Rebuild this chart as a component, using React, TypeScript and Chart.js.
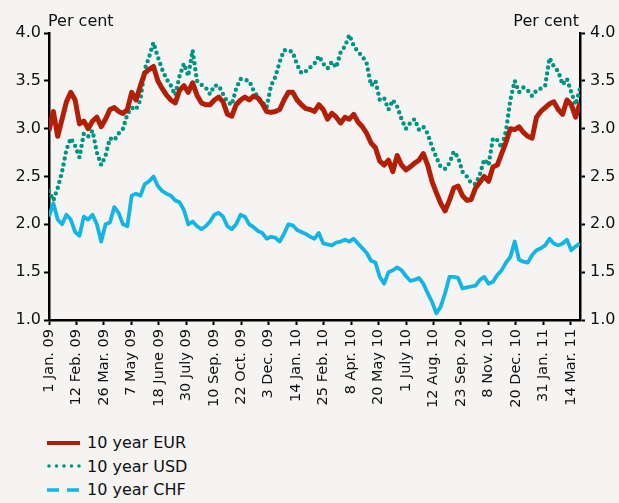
import React, { useEffect, useRef } from "react";
import { Chart, registerables } from "chart.js";

Chart.register(...registerables);

// x positions are sample indices (one reading per ~5 business days, from 1 Jan 2009)
const tickLabels = [
  "1 Jan. 09", "12 Feb. 09", "26 Mar. 09", "7 May 09", "18 June 09", "30 July 09",
  "10 Sep. 09", "22 Oct. 09", "3 Dec. 09", "14 Jan. 10", "25 Feb. 10", "8 Apr. 10",
  "20 May 10", "1 July 10", "12 Aug. 10", "23 Sep. 20", "8 Nov. 10", "20 Dec. 10",
  "31 Jan. 11", "14 Mar. 11",
];
const samplesPerTick = 6.31;
const lastSample = 122;

const eur = [
  2.98, 3.18, 2.92, 3.1, 3.28, 3.38, 3.3, 3.05, 3.08, 3.0,
  3.08, 3.12, 3.02, 3.1, 3.2, 3.22, 3.18, 3.16, 3.2, 3.38,
  3.3, 3.45, 3.58, 3.62, 3.65, 3.5, 3.42, 3.35, 3.3, 3.27,
  3.4, 3.45,
  3.38, 3.48, 3.35, 3.27, 3.25, 3.25, 3.3, 3.33, 3.28, 3.15,
  3.13, 3.25, 3.3, 3.33, 3.3, 3.34, 3.32, 3.26, 3.18, 3.17,
  3.18, 3.2, 3.3, 3.38, 3.38, 3.3, 3.25, 3.21, 3.2, 3.18,
  3.25,
  3.2, 3.1, 3.16, 3.12, 3.06, 3.12, 3.1, 3.15, 3.07, 3.02,
  2.95, 2.85, 2.8, 2.66, 2.62, 2.67, 2.55, 2.72, 2.62, 2.57,
  2.6, 2.64, 2.67, 2.74, 2.62, 2.45, 2.33, 2.22, 2.14, 2.25,
  2.38,
  2.4, 2.3, 2.25, 2.26, 2.38, 2.44, 2.5, 2.45, 2.6, 2.62,
  2.74, 2.86, 3.0, 2.99, 3.02, 2.96, 2.92, 2.9, 3.12, 3.18,
  3.22, 3.26, 3.28, 3.2, 3.15, 3.3, 3.25, 3.12, 3.27,
];

const usd = [
  2.35, 2.25, 2.38, 2.55, 2.78, 2.9, 2.82, 2.7, 2.95, 2.92,
  2.98, 2.75, 2.62, 2.72, 2.9, 2.88, 2.95, 3.0, 3.15, 3.22,
  3.2, 3.3, 3.62, 3.75, 3.9, 3.75, 3.62, 3.52, 3.45, 3.35,
  3.55, 3.68,
  3.55, 3.82, 3.5, 3.46, 3.43, 3.36, 3.45, 3.45, 3.36, 3.28,
  3.25, 3.42, 3.52, 3.51, 3.5, 3.4, 3.33, 3.28, 3.22, 3.45,
  3.54, 3.7, 3.82, 3.82, 3.8, 3.67, 3.58, 3.6, 3.64, 3.68,
  3.76,
  3.68, 3.63, 3.7, 3.64, 3.8, 3.86, 3.98, 3.87, 3.8, 3.76,
  3.68, 3.45, 3.5, 3.3, 3.32, 3.2, 3.3, 3.23, 3.1, 3.0,
  3.06, 3.1, 2.99, 3.02, 2.95, 2.81, 2.7, 2.6, 2.58, 2.64,
  2.76,
  2.7, 2.55, 2.5, 2.43, 2.42, 2.52, 2.68, 2.62, 2.9, 2.88,
  2.8, 2.98, 3.3, 3.5, 3.38, 3.43, 3.4, 3.34, 3.4, 3.42,
  3.45, 3.74, 3.65, 3.6, 3.46, 3.52, 3.38, 3.25, 3.42,
];

const chf = [
  2.08, 2.22, 2.05, 2.0, 2.1, 2.05, 1.92, 1.88, 2.08, 2.05,
  2.1, 2.0, 1.82, 2.0, 2.02, 2.18, 2.12, 2.0, 1.98, 2.3,
  2.32, 2.3, 2.42, 2.45, 2.5, 2.4, 2.35, 2.32, 2.3, 2.25,
  2.23, 2.15,
  2.0, 2.03, 1.98, 1.95, 1.98, 2.03, 2.1, 2.12, 2.08, 1.98,
  1.95, 2.0, 2.1, 2.08, 2.0, 1.97, 1.93, 1.91, 1.85, 1.87,
  1.86, 1.82, 1.9, 2.0, 1.99, 1.94, 1.92, 1.9, 1.87, 1.85,
  1.91,
  1.8, 1.79, 1.78, 1.81, 1.82, 1.84, 1.82, 1.85, 1.8, 1.75,
  1.7, 1.62, 1.6, 1.45, 1.38, 1.5, 1.52, 1.55, 1.52, 1.46,
  1.41, 1.42, 1.44, 1.38, 1.28, 1.19, 1.07, 1.14, 1.28, 1.45,
  1.45,
  1.44, 1.33, 1.34, 1.35, 1.36, 1.42, 1.45, 1.38, 1.4, 1.47,
  1.52, 1.6, 1.66, 1.82, 1.63, 1.61, 1.6, 1.68, 1.73, 1.75,
  1.78, 1.85, 1.8, 1.78, 1.8, 1.84, 1.73, 1.77, 1.8,
];

const seriesNames = ["10 year EUR", "10 year USD", "10 year CHF"];
const colors = ["#b21f06", "#009482", "#12b5e5"];
const yTicks = [1.0, 1.5, 2.0, 2.5, 3.0, 3.5, 4.0];

const BG = "#f5f4f2";
const FONT = "'DejaVu Sans', Verdana, sans-serif";

const toPoints = (arr: number[]) => arr.map((v, i) => ({ x: i, y: v }));

export default function App() {
  const ref = useRef<HTMLCanvasElement | null>(null);

  useEffect(() => {
    document.body.style.margin = "0";
    document.body.style.background = BG;
    const canvas = ref.current;
    if (!canvas) return;

    const perCent = {
      id: "perCent",
      afterDraw(chart: any) {
        const ctx = chart.ctx;
        ctx.save();
        ctx.fillStyle = "#111";
        ctx.font = `16px ${FONT}`;
        ctx.textBaseline = "alphabetic";
        ctx.textAlign = "left";
        ctx.fillText("Per cent", 48, 26);
        ctx.textAlign = "right";
        ctx.fillText("Per cent", 579, 26);
        ctx.restore();
      },
    };

    const yAxis = (position: string, width: number) => ({
      type: "linear",
      position,
      min: 1,
      max: 4,
      afterBuildTicks: (s: any) => {
        s.ticks = yTicks.map((v) => ({ value: v }));
      },
      afterFit: (s: any) => {
        s.width = width;
      },
      ticks: {
        color: "#111",
        font: { family: FONT, size: 16 },
        padding: position === "left" ? 3 : 5,
        callback: (v: any) => Number(v).toFixed(1),
      },
      grid: {
        display: true,
        drawOnChartArea: false,
        drawTicks: true,
        tickLength: 5,
        tickWidth: 2,
        tickColor: "#000",
      },
      border: { display: true, color: "#000", width: 2.5 },
    });

    const chart = new Chart(canvas, {
      type: "line",
      data: {
        datasets: [
          {
            label: seriesNames[0],
            data: toPoints(eur),
            borderColor: colors[0],
            borderWidth: 5,
            pointRadius: 0,
            borderJoinStyle: "round",
            tension: 0,
          },
          {
            label: seriesNames[1],
            data: toPoints(usd),
            borderColor: colors[1],
            borderWidth: 4.4,
            borderDash: [0, 6],
            borderCapStyle: "round",
            pointRadius: 0,
            tension: 0,
          },
          {
            label: seriesNames[2],
            data: toPoints(chf),
            borderColor: colors[2],
            borderWidth: 3.8,
            pointRadius: 0,
            borderJoinStyle: "round",
            tension: 0,
          },
        ],
      },
      options: {
        responsive: false,
        animation: false,
        layout: { padding: { top: 33, left: 0, right: 0, bottom: 0 } },
        plugins: { legend: { display: false }, tooltip: { enabled: false } },
        scales: {
          x: {
            type: "linear",
            min: 0,
            max: lastSample,
            afterBuildTicks: (s: any) => {
              s.ticks = tickLabels.map((_, i) => ({ value: i * samplesPerTick }));
            },
            afterFit: (s: any) => {
              s.height = 105;
            },
            ticks: {
              autoSkip: false,
              minRotation: 90,
              maxRotation: 90,
              padding: 4,
              color: "#111",
              font: { family: FONT, size: 14.5 },
              callback: (_v: any, index: number) => tickLabels[index] ?? "",
            },
            grid: {
              display: true,
              drawOnChartArea: false,
              drawTicks: true,
              tickLength: 5,
              tickWidth: 2,
              tickColor: "#000",
            },
            border: { display: true, color: "#000", width: 2.5 },
          },
          y: yAxis("left", 49),
          y2: yAxis("right", 39),
        },
      } as any,
      plugins: [perCent],
    });
    return () => chart.destroy();
  }, []);

  const legendRows = [
    { dash: "none", width: 4, cap: "butt" },
    { dash: "0 7.5", width: 3.6, cap: "round" },
    { dash: "12 8", width: 3.5, cap: "butt" },
  ];

  return (
    <div style={{ position: "relative", width: 619, height: 503, background: BG, overflow: "hidden" }}>
      <canvas ref={ref} width={619} height={425} style={{ display: "block" }} />
      <div style={{ position: "absolute", left: 46, top: 431, fontFamily: FONT, fontSize: 16, color: "#111" }}>
        {seriesNames.map((name, i) => (
          <div key={name} style={{ display: "flex", alignItems: "center", height: 23.5 }}>
            <svg width={36} height={10} style={{ marginRight: 5 }}>
              <line
                x1={legendRows[i].cap === "round" ? 3 : 1}
                y1={5}
                x2={34}
                y2={5}
                stroke={colors[i]}
                strokeWidth={legendRows[i].width}
                strokeDasharray={legendRows[i].dash}
                strokeLinecap={legendRows[i].cap as any}
              />
            </svg>
            <span>{name}</span>
          </div>
        ))}
      </div>
    </div>
  );
}
